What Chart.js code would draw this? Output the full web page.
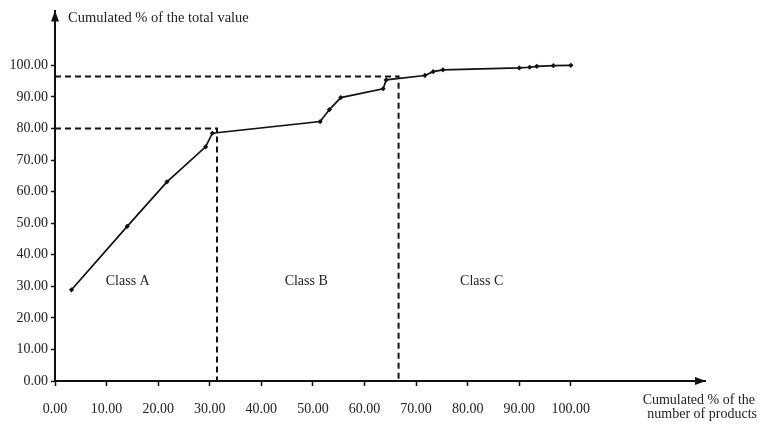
<!DOCTYPE html>
<html>
<head>
<meta charset="utf-8">
<script src="https://cdn.jsdelivr.net/npm/chart.js@4"></script>
<style>
  html, body { margin: 0; padding: 0; background: #fff; }
  #wrap { width: 762px; height: 424px; position: relative; }
</style>
</head>
<body>
<div id="wrap"><canvas id="c"></canvas></div>
<script>
// cumulated % of products (x) vs cumulated % of total value (y)
const productPct = [3.2, 14.0, 21.7, 29.2, 30.5, 51.4, 53.2, 55.4, 63.6, 64.2, 71.7, 73.3, 75.2, 90.0, 92.0, 93.4, 96.6, 100.0]
const valuePct   = [28.9, 49.0, 63.1, 74.2, 78.5, 82.2, 86.0, 89.8, 92.6, 95.4, 96.8, 98.0, 98.6, 99.2, 99.4, 99.7, 99.9, 100.0]

// class boundaries (dashed guides)
const limitA = { x: 31.4, y: 80.0 }
const limitB = { x: 66.6, y: 96.5 }

const classNames = ["Class A", "Class B", "Class C"]
const classPosX  = [14.1, 48.7, 82.7]
const classPosY  = 31.7

const yTitle = "Cumulated % of the total value"
const xTitle = ["Cumulated % of the", "number of products"]

const FONT = "'Liberation Serif', 'Times New Roman', serif"

const guide = lim => [{ x: 0, y: lim.y }, { x: lim.x, y: lim.y }, { x: lim.x, y: 0 }]

const extras = {
  id: "extras",
  afterDraw(chart) {
    const ctx = chart.ctx
    const { left, right, top, bottom } = chart.chartArea
    const xs = chart.scales.x, ys = chart.scales.y
    ctx.save()
    ctx.fillStyle = "#111"
    // arrow heads
    ctx.beginPath()
    ctx.moveTo(right + 1, bottom)
    ctx.lineTo(right - 10, bottom - 4)
    ctx.lineTo(right - 10, bottom + 4)
    ctx.closePath()
    ctx.fill()
    ctx.beginPath()
    ctx.moveTo(left, top - 1)
    ctx.lineTo(left - 4, top + 10)
    ctx.lineTo(left + 4, top + 10)
    ctx.closePath()
    ctx.fill()

    // class labels
    ctx.font = "14px " + FONT
    ctx.textAlign = "center"
    ctx.textBaseline = "middle"
    ctx.fillStyle = "#222"
    classNames.forEach((n, i) => {
      ctx.fillText(n, xs.getPixelForValue(classPosX[i]), ys.getPixelForValue(classPosY))
    })

    // axis titles
    ctx.font = "14.5px " + FONT
    ctx.textAlign = "left"
    ctx.fillText(yTitle, left + 13, top + 7)
    ctx.font = "14px " + FONT
    ctx.textAlign = "right"
    ctx.textBaseline = "alphabetic"
    ctx.fillText(xTitle[0], 755, 404)
    ctx.fillText(xTitle[1], 757, 418)
    ctx.restore()
  }
}

const onlyTo100 = s => { s.ticks = s.ticks.filter(t => t.value <= 100) }

new Chart(document.getElementById("c"), {
  type: "scatter",
  data: {
    datasets: [
      {
        data: productPct.map((x, i) => ({ x, y: valuePct[i] })),
        showLine: true,
        borderColor: "#111",
        backgroundColor: "#111",
        borderWidth: 1.7,
        pointStyle: "rectRot",
        pointRadius: 2.6,
        pointBorderWidth: 0
      },
      {
        data: guide(limitA),
        showLine: true,
        borderColor: "#111",
        borderWidth: 2,
        borderDash: [6, 4],
        pointRadius: 0
      },
      {
        data: guide(limitB),
        showLine: true,
        borderColor: "#111",
        borderWidth: 2,
        borderDash: [6, 4],
        pointRadius: 0
      }
    ]
  },
  options: {
    responsive: true,
    maintainAspectRatio: false,
    animation: false,
    layout: { padding: { top: 9, right: 57, left: 0, bottom: 0 } },
    plugins: {
      legend: { display: false },
      tooltip: { enabled: false }
    },
    scales: {
      x: {
        type: "linear",
        min: 0,
        max: 126,
        afterBuildTicks: onlyTo100,
        afterFit: s => { s.height = 43 },
        border: { display: true, color: "#111", width: 2 },
        grid: { drawOnChartArea: false, tickLength: 5, color: "#111", tickWidth: 1.5 },
        ticks: {
          stepSize: 10,
          padding: 15,
          maxRotation: 0,
          autoSkip: false,
          color: "#222",
          font: { family: FONT, size: 14 },
          callback: v => v.toFixed(2)
        }
      },
      y: {
        type: "linear",
        min: 0,
        max: 117.1,
        afterBuildTicks: onlyTo100,
        afterFit: s => { s.width = 55 },
        border: { display: true, color: "#111", width: 2 },
        grid: { drawOnChartArea: false, tickLength: 4, color: "#111", tickWidth: 1.5 },
        ticks: {
          stepSize: 10,
          padding: 3,
          autoSkip: false,
          color: "#222",
          font: { family: FONT, size: 14 },
          callback: v => v.toFixed(2)
        }
      }
    }
  },
  plugins: [extras]
})
</script>
</body>
</html>
